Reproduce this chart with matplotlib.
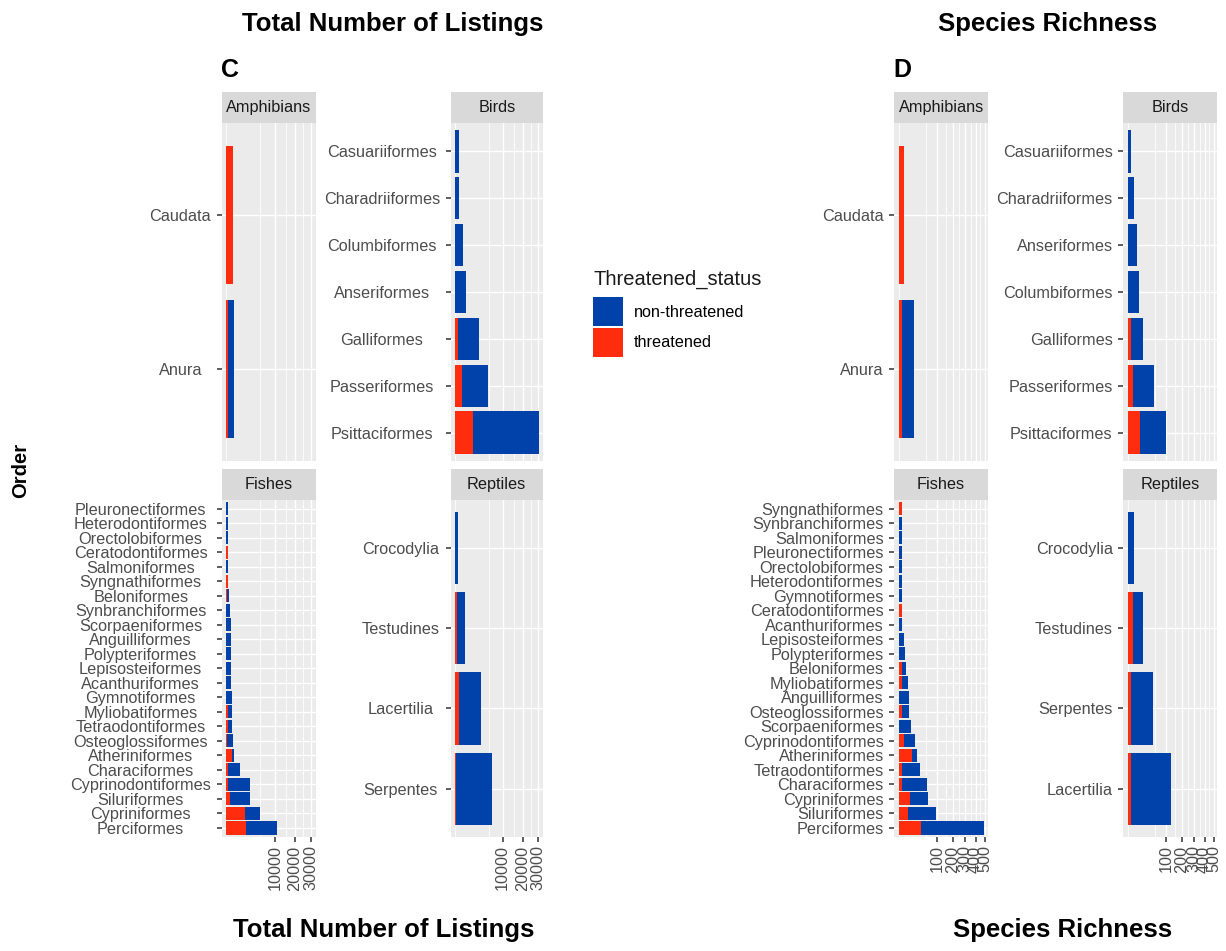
import numpy as np
import matplotlib
matplotlib.use("Agg")
import matplotlib.pyplot as plt
from matplotlib.patches import Patch

plt.rcParams["font.family"] = ["Liberation Sans", "DejaVu Sans"]

W, H, DPI = 1226, 951, 100
BLUE = "#0042A9"
RED = "#FF2C0D"
PANEL_BG = "#EBEBEB"
STRIP_BG = "#D9D9D9"
TXT = "#4D4D4D"
FS = 11.7

# ── C: total number of listings (threatened / non-threatened) ──
c_amph_orders = ["Caudata", "Anura"]
c_amph_thr = [180, 12]
c_amph_non = [0, 175]

c_bird_orders = ["Casuariiformes", "Charadriiformes", "Columbiformes", "Anseriformes",
                 "Galliformes", "Passeriformes", "Psittaciformes"]
c_bird_thr = [0, 0, 0, 0, 45, 216, 1450]
c_bird_non = [64, 64, 325, 515, 2000, 3000, 18770]

c_fish_orders = ["Pleuronectiformes", "Heterodontiformes", "Orectolobiformes",
                 "Ceratodontiformes", "Salmoniformes", "Syngnathiformes", "Beloniformes",
                 "Synbranchiformes", "Scorpaeniformes", "Anguilliformes", "Polypteriformes",
                 "Lepisosteiformes", "Acanthuriformes", "Gymnotiformes", "Myliobatiformes",
                 "Tetraodontiformes", "Osteoglossiformes", "Atheriniformes", "Characiformes",
                 "Cyprinodontiformes", "Siluriformes", "Cypriniformes", "Perciformes"]
c_fish_thr = [0, 0, 0, 22, 0, 22, 4, 0, 0, 0, 0, 0, 0, 0, 22, 11, 7, 130, 22, 11, 64, 1450, 1610]
c_fish_non = [22, 11, 11, 0, 22, 0, 22, 64, 88, 88, 94, 100, 100, 145, 54, 100, 145, 36, 580,
              2190, 1775, 1030, 4200]

c_rept_orders = ["Crocodylia", "Testudines", "Lacertilia", "Serpentes"]
c_rept_thr = [0, 22, 64, 4]
c_rept_non = [45, 280, 2250, 5800]

# ── D: species richness ──
d_amph_orders = ["Caudata", "Anura"]
d_amph_thr = [2, 1]
d_amph_non = [0, 9]

d_bird_orders = ["Casuariiformes", "Charadriiformes", "Anseriformes", "Columbiformes",
                 "Galliformes", "Passeriformes", "Psittaciformes"]
d_bird_thr = [0, 0, 0, 0, 1, 2, 10]
d_bird_non = [1, 3, 6, 9, 9, 29, 47]

d_fish_orders = ["Syngnathiformes", "Synbranchiformes", "Salmoniformes", "Pleuronectiformes",
                 "Orectolobiformes", "Heterodontiformes", "Gymnotiformes", "Ceratodontiformes",
                 "Acanthuriformes", "Lepisosteiformes", "Polypteriformes", "Beloniformes",
                 "Myliobatiformes", "Anguilliformes", "Osteoglossiformes", "Scorpaeniformes",
                 "Cyprinodontiformes", "Atheriniformes", "Tetraodontiformes", "Characiformes",
                 "Cypriniformes", "Siluriformes", "Perciformes"]
d_fish_thr = [1, 0, 0, 0, 0, 0, 0, 1, 0, 0, 0, 1, 1, 0, 1, 0, 2, 12, 1, 1, 9, 6, 33]
d_fish_non = [0, 1, 1, 1, 1, 1, 1, 0, 1, 2, 3, 1, 2, 8, 3, 11, 8, 2, 21, 41, 22, 53, 268]

d_rept_orders = ["Crocodylia", "Testudines", "Serpentes", "Lacertilia"]
d_rept_thr = [0, 2, 1, 1]
d_rept_non = [3, 7, 31, 105]

C_BREAKS = [10000, 20000, 30000]
C_MINOR = [0, 5000, 15000, 25000]
D_BREAKS = [100, 200, 300, 400, 500]
D_MINOR = [0, 50, 150, 250, 350, 450]

fig = plt.figure(figsize=(W / DPI, H / DPI), dpi=DPI)
fig.patch.set_facecolor("white")


def add_ax(x0, x1, y0, y1):
    return fig.add_axes([x0 / W, 1 - y1 / H, (x1 - x0) / W, (y1 - y0) / H])


def stacked_max(*facets):
    # ggplot stacks after the sqrt transform, so stack sqrt values
    return max(np.max(np.sqrt(t) + np.sqrt(n)) for t, n in facets)


def draw_panel(xs, ys, name, orders, thr, non, xmax, breaks, minor, show_x):
    x0, x1 = xs
    y0, y1 = ys
    strip = add_ax(x0, x1, y0 - 31, y0)
    strip.set_facecolor(STRIP_BG)
    strip.set_xticks([])
    strip.set_yticks([])
    for s in strip.spines.values():
        s.set_visible(False)
    strip.text(0.5, 0.5, name, ha="center", va="center", fontsize=FS, color="#1A1A1A",
               transform=strip.transAxes)

    ax = add_ax(x0, x1, y0, y1)
    ax.set_facecolor(PANEL_BG)
    n = len(orders)
    y = np.arange(n)
    r = np.sqrt(np.array(thr, dtype=float))
    b = np.sqrt(np.array(non, dtype=float))
    ax.barh(y, r, height=0.9, color=RED, linewidth=0, zorder=3)
    ax.barh(y, b, left=r, height=0.9, color=BLUE, linewidth=0, zorder=3)
    ax.set_ylim(n - 0.4, -0.6)
    ax.set_xlim(-0.05 * xmax, 1.05 * xmax)
    ax.set_yticks(y, orders)
    ax.set_xticks(np.sqrt(breaks), [str(v) for v in breaks] if show_x else [])
    ax.set_xticks(np.sqrt(minor), minor=True)
    ax.set_axisbelow(True)
    ax.grid(which="major", color="white", linewidth=1.0, zorder=1)
    ax.grid(which="minor", axis="x", color="white", linewidth=0.55, zorder=1)
    ax.tick_params(axis="x", which="minor", length=0)
    ax.tick_params(axis="both", which="major", length=3.3, width=1.1, color="#333333",
                   labelcolor=TXT, labelsize=FS, pad=4.3)
    ax.tick_params(axis="x", labelrotation=90, pad=3.0)
    if not show_x:
        ax.tick_params(axis="x", length=0)
    for s in ax.spines.values():
        s.set_visible(False)
    return ax


COL_C = [(221.7, 315.7), (450.5, 543.0)]
COL_D = [(894.3, 988.0), (1123.3, 1217.0)]
ROW1 = (123.3, 460.7)
ROW2 = (500.0, 836.7)

c_max = stacked_max((c_amph_thr, c_amph_non), (c_bird_thr, c_bird_non),
                    (c_fish_thr, c_fish_non), (c_rept_thr, c_rept_non))
d_max = stacked_max((d_amph_thr, d_amph_non), (d_bird_thr, d_bird_non),
                    (d_fish_thr, d_fish_non), (d_rept_thr, d_rept_non))

c_axes = [
    draw_panel(COL_C[0], ROW1, "Amphibians", c_amph_orders, c_amph_thr, c_amph_non,
               c_max, C_BREAKS, C_MINOR, False),
    draw_panel(COL_C[1], ROW1, "Birds", c_bird_orders, c_bird_thr, c_bird_non,
               c_max, C_BREAKS, C_MINOR, False),
    draw_panel(COL_C[0], ROW2, "Fishes", c_fish_orders, c_fish_thr, c_fish_non,
               c_max, C_BREAKS, C_MINOR, True),
    draw_panel(COL_C[1], ROW2, "Reptiles", c_rept_orders, c_rept_thr, c_rept_non,
               c_max, C_BREAKS, C_MINOR, True),
]
draw_panel(COL_D[0], ROW1, "Amphibians", d_amph_orders, d_amph_thr, d_amph_non,
           d_max, D_BREAKS, D_MINOR, False)
draw_panel(COL_D[1], ROW1, "Birds", d_bird_orders, d_bird_thr, d_bird_non,
           d_max, D_BREAKS, D_MINOR, False)
draw_panel(COL_D[0], ROW2, "Fishes", d_fish_orders, d_fish_thr, d_fish_non,
           d_max, D_BREAKS, D_MINOR, True)
draw_panel(COL_D[1], ROW2, "Reptiles", d_rept_orders, d_rept_thr, d_rept_non,
           d_max, D_BREAKS, D_MINOR, True)

# panel C has its order labels centred (hjust = 0.5)
fig.canvas.draw()
for ax in c_axes:
    labels = ax.get_yticklabels()
    maxw = max(t.get_window_extent().width for t in labels)
    ax.tick_params(axis="y", pad=4.3 + maxw / 2 * 72 / DPI)
    for t in ax.get_yticklabels():
        t.set_ha("center")

fig.text(393 / W, 1 - 24 / H, "Total Number of Listings", ha="center", va="center",
         fontsize=18.5, fontweight="bold")
fig.text(1048 / W, 1 - 24 / H, "Species Richness", ha="center", va="center",
         fontsize=18.5, fontweight="bold")
fig.text(384 / W, 1 - 930 / H, "Total Number of Listings", ha="center", va="center",
         fontsize=18.5, fontweight="bold")
fig.text(1063 / W, 1 - 930 / H, "Species Richness", ha="center", va="center",
         fontsize=18.5, fontweight="bold")
fig.text(221 / W, 1 - 70 / H, "C", ha="left", va="center", fontsize=18, fontweight="bold")
fig.text(893 / W, 1 - 70 / H, "D", ha="left", va="center", fontsize=18, fontweight="bold")
fig.text(21 / W, 1 - 470 / H, "Order", ha="center", va="center", rotation=90,
         fontsize=14.5, fontweight="bold")

fig.text(593 / W, 1 - 279 / H, "Threatened_status", ha="left", va="center",
         fontsize=14.5, color="#1A1A1A")
handles = [Patch(facecolor=BLUE, label="non-threatened"),
           Patch(facecolor=RED, label="threatened")]
fig.legend(handles=handles, loc="upper left",
           bbox_to_anchor=(593 / W, 1 - 297 / H), frameon=False, fontsize=FS,
           handlelength=1.85, handleheight=2.37, labelspacing=0.12,
           handletextpad=0.68, borderpad=0, borderaxespad=0)

fig.savefig("out.png", dpi=DPI, facecolor="white")
